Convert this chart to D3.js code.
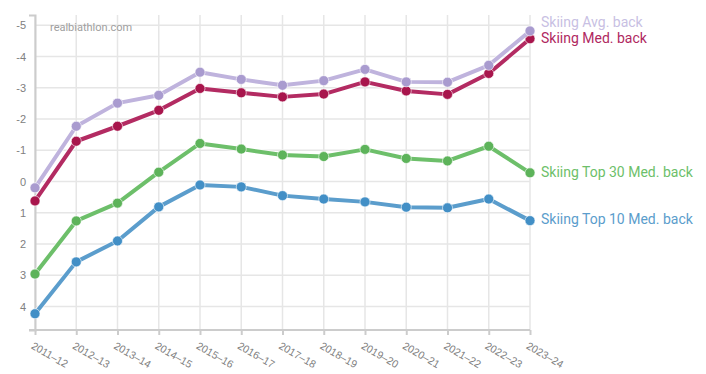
<!DOCTYPE html>
<html>
<head>
<meta charset="utf-8">
<script src="https://cdn.jsdelivr.net/npm/d3@7"></script>
<style>
  body { margin: 0; background: #fff; }
  svg { font-family: Roboto, "Open Sans", sans-serif; }
  .grid line { stroke: #e6e6e6; stroke-width: 1.5; }
  .axis path, .axis line { stroke: #ccc; stroke-width: 2; }
  .axis text { fill: #808080; }
</style>
</head>
<body>
<svg id="chart" width="706" height="374"></svg>
<script>
var seasons = ["2011–12", "2012–13", "2013–14", "2014–15", "2015–16", "2016–17", "2017–18",
  "2018–19", "2019–20", "2020–21", "2021–22", "2022–23", "2023–24"];

var avgBack = [0.2, -1.77, -2.51, -2.76, -3.5, -3.27, -3.08, -3.23, -3.59, -3.19, -3.18, -3.72, -4.82];
var medBack = [0.62, -1.29, -1.77, -2.28, -2.98, -2.84, -2.71, -2.8, -3.19, -2.9, -2.79, -3.46, -4.57];
var top30Back = [2.96, 1.26, 0.69, -0.3, -1.22, -1.04, -0.85, -0.8, -1.03, -0.74, -0.66, -1.13, -0.28];
var top10Back = [4.23, 2.57, 1.9, 0.81, 0.11, 0.17, 0.45, 0.56, 0.65, 0.82, 0.84, 0.56, 1.25];

var yTicks = [-5, -4, -3, -2, -1, 0, 1, 2, 3, 4];

var series = [
  {name: "Skiing Avg. back", values: avgBack, line: "#bfb3dd", dot: "#a99bcf", label: "#c8bfe3"},
  {name: "Skiing Med. back", values: medBack, line: "#b32b62", dot: "#a8154c", label: "#b0285f"},
  {name: "Skiing Top 30 Med. back", values: top30Back, line: "#6dbf6a", dot: "#5db35a", label: "#6dbf6a"},
  {name: "Skiing Top 10 Med. back", values: top10Back, line: "#5b9dcc", dot: "#428fc6", label: "#5b9dcc"}
];

var svg = d3.select("#chart");
var plotLeft = 35, plotRight = 530, plotTop = 15, plotBottom = 330;

var x = d3.scalePoint().domain(seasons).range([plotLeft, plotRight]);
var y = d3.scaleLinear().domain([-5.33, 4.75]).range([plotTop, plotBottom]);

// grid
var grid = svg.append("g").attr("class", "grid");
grid.selectAll(".hg")
  .data(yTicks)
  .enter()
  .append("line")
  .attr("x1", plotLeft).attr("x2", plotRight)
  .attr("y1", function (d) { return y(d); })
  .attr("y2", function (d) { return y(d); });
grid.selectAll(".vg")
  .data(seasons)
  .enter()
  .append("line")
  .attr("x1", function (d) { return x(d); })
  .attr("x2", function (d) { return x(d); })
  .attr("y1", plotTop).attr("y2", plotBottom);

// axes
var yAxis = svg.append("g")
  .attr("class", "axis")
  .attr("transform", "translate(" + plotLeft + ",0)")
  .call(d3.axisLeft(y).tickValues(yTicks).tickSize(0).tickSizeOuter(6).tickPadding(9)
    .tickFormat(function (d) { return String(d); }));
yAxis.selectAll("text").style("font-size", "11px");

var xAxis = svg.append("g")
  .attr("class", "axis")
  .attr("transform", "translate(0," + plotBottom + ")")
  .call(d3.axisBottom(x).tickSize(5).tickSizeOuter(0));
xAxis.select(".domain").attr("d", "M" + (plotLeft - 6) + ",0H" + plotRight);
xAxis.selectAll("text")
  .style("font-size", "10.5px")
  .attr("text-anchor", "start")
  .attr("dy", 0)
  .attr("transform", "translate(-1,11) rotate(30)");

// watermark
svg.append("text")
  .attr("x", 50).attr("y", 31)
  .style("font-size", "11px")
  .style("fill", "#a0a0a0")
  .text("realbiathlon.com");

var line = d3.line()
  .x(function (d, i) { return x(seasons[i]); })
  .y(function (d) { return y(d); });

var groups = svg.selectAll(".series")
  .data(series.slice().reverse())
  .enter()
  .append("g")
  .attr("class", "series");

groups.append("path")
  .attr("d", function (d) { return line(d.values); })
  .attr("fill", "none")
  .attr("stroke", "#fff")
  .attr("stroke-opacity", 0.6)
  .attr("stroke-width", 6);

groups.append("path")
  .attr("d", function (d) { return line(d.values); })
  .attr("fill", "none")
  .attr("stroke", function (d) { return d.line; })
  .attr("stroke-width", 4)
  .attr("stroke-linejoin", "round");

groups.each(function (s) {
  d3.select(this).selectAll("circle")
    .data(s.values)
    .enter()
    .append("circle")
    .attr("cx", function (d, i) { return x(seasons[i]); })
    .attr("cy", function (d) { return y(d); })
    .attr("r", 5)
    .attr("fill", s.dot)
    .attr("stroke", "#fff")
    .attr("stroke-opacity", 0.6)
    .attr("stroke-width", 1);
});

// end labels
var labelY = [22, 38, 172, 219];
svg.selectAll(".end-label")
  .data(series)
  .enter()
  .append("text")
  .attr("class", "end-label")
  .attr("x", plotRight + 11)
  .attr("y", function (d, i) { return labelY[i]; })
  .attr("dy", "0.35em")
  .style("font-size", "14px")
  .style("fill", function (d) { return d.label; })
  .text(function (d) { return d.name; });
</script>
</body>
</html>
